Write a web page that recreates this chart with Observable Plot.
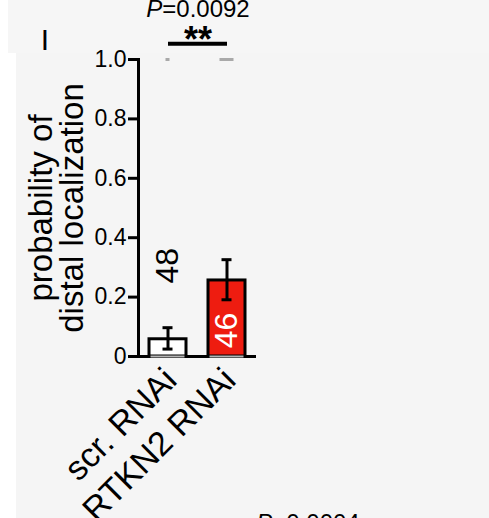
<!DOCTYPE html>
<html><head><meta charset="utf-8">
<script src="https://cdn.jsdelivr.net/npm/d3@7"></script>
<script src="https://cdn.jsdelivr.net/npm/@observablehq/plot@0.6"></script>
<style>
html,body{margin:0;padding:0;background:#fff;width:489px;height:518px;overflow:hidden;}
#bg1{position:absolute;left:8px;top:0;width:481px;height:53px;background:#f6f6f6;}
#bg2{position:absolute;left:16px;top:53px;width:473px;height:465px;background:#f5f5f5;}
#chart{position:absolute;left:0;top:0;}
</style></head><body>
<div id="bg1"></div><div id="bg2"></div><div id="chart"></div>
<script>
// ---- data ----
const conditions = ["scr. RNAi", "RTKN2 RNAi"];
const means = [0.058, 0.256];
const errLow = [0.025, 0.191];
const errHigh = [0.097, 0.326];
const counts = [48, 46];
const barFills = ["#ffffff", "#ee1c10"];
const ceilingMarks = [1.0, 1.0];
const yTicks = [0, 0.2, 0.4, 0.6, 0.8, 1.0];
const pTop = "=0.0092";
const pBottom = "=0.0004";
const stars = "**";
const bracketLevel = [1.053];
const yTitle = "probability of\ndistal localization";
const panelMark = "I";

const data = conditions.map((c, i) => ({
  cond: c, mean: means[i], lo: errLow[i], hi: errHigh[i],
  n: String(counts[i]), fill: barFills[i], top: ceilingMarks[i]
}));
const sig = [{a: conditions[0], b: conditions[1], y: bracketLevel[0]}];
const font = "'Liberation Sans', Arial, Helvetica, sans-serif";

const plot = Plot.plot({
  width: 489, height: 518,
  marginLeft: 138, marginRight: 233, marginTop: 59, marginBottom: 162,
  style: {background: "transparent", fontFamily: font, color: "#000", overflow: "hidden"},
  x: {domain: conditions, paddingInner: 0.373, paddingOuter: 0.186, axis: null},
  y: {domain: [0, 1], axis: null},
  color: {type: "identity"},
  marks: [
    Plot.barY(data, {x: "cond", y: "mean", fill: "fill", stroke: "#000", strokeWidth: 3}),
    Plot.ruleY([0], {stroke: "#000", strokeWidth: 3}),
    Plot.tickY(data, {x: "cond", y: () => 0, stroke: "#b4b4b4", strokeWidth: 2, insetLeft: 1.5, insetRight: 1.5}),
    Plot.frame({anchor: "left", stroke: "#000", strokeWidth: 3}),
    Plot.axisY({ticks: yTicks, tickSize: 10, tickPadding: 2, strokeWidth: 3, fontSize: 23,
      tickFormat: d => d === 0 ? "0" : d.toFixed(1)}),
    Plot.ruleX(data, {x: "cond", y1: "lo", y2: "hi", stroke: "#000", strokeWidth: 3}),
    Plot.tickY(data, {x: "cond", y: "lo", stroke: "#000", strokeWidth: 3, insetLeft: 13.5, insetRight: 13.5}),
    Plot.tickY(data, {x: "cond", y: "hi", stroke: "#000", strokeWidth: 3, insetLeft: 13.5, insetRight: 13.5}),
    Plot.tickY(data.slice(0, 1), {x: "cond", y: "top", stroke: "#a9a9a9", strokeWidth: 3, insetLeft: 16.5, insetRight: 16.5}),
    Plot.tickY(data.slice(1), {x: "cond", y: "top", stroke: "#a9a9a9", strokeWidth: 3, insetLeft: 11.5, insetRight: 11.5}),
    Plot.text(data.slice(0, 1), {x: "cond", y: "hi", text: "n", rotate: -90, fontSize: 32, dy: -62,
      textAnchor: "middle", lineAnchor: "middle", fill: "#000"}),
    Plot.text(data.slice(1), {x: "cond", y: () => 0, text: "n", rotate: -90, fontSize: 32, dy: -26,
      textAnchor: "middle", lineAnchor: "middle", fill: "#fff"}),
    Plot.text(data, {x: "cond", text: "cond", frameAnchor: "bottom", rotate: -45, textAnchor: "end",
      lineAnchor: "middle", fontSize: 34, dx: 3, dy: 18, fill: "#000"}),
    Plot.link(sig, {x1: "a", x2: "b", y1: "y", y2: "y", stroke: "#000", strokeWidth: 4}),
    Plot.text(sig, {x: "a", y: "y", text: () => stars, fontSize: 36, fontWeight: "bold", dx: 30, dy: 8,
      lineAnchor: "bottom", fill: "#000"}),
    Plot.text(sig, {x: "a", y: "y", text: () => "P", fontStyle: "italic", fontSize: 24, dx: -5.7, dy: -26.6,
      textAnchor: "end", lineAnchor: "bottom", fill: "#000"}),
    Plot.text(sig, {x: "a", y: "y", text: () => pTop, fontSize: 24, dx: -5.7, dy: -26.6,
      textAnchor: "start", lineAnchor: "bottom", fill: "#000"}),
    Plot.text(sig, {x: "b", y: () => 0, text: () => "P", fontStyle: "italic", fontSize: 24, dx: 45.3, dy: 174,
      textAnchor: "end", lineAnchor: "bottom", fill: "#000"}),
    Plot.text(sig, {x: "b", y: () => 0, text: () => pBottom, fontSize: 24, dx: 45.3, dy: 174,
      textAnchor: "start", lineAnchor: "bottom", fill: "#000"}),
    Plot.text([yTitle], {frameAnchor: "left", text: d => d, rotate: -90, fontSize: 33, lineHeight: 0.95,
      dx: -81, dy: 0, textAnchor: "middle", lineAnchor: "middle", fill: "#000"}),
    Plot.text([panelMark], {frameAnchor: "top-left", text: d => d, fontSize: 30, dx: 44.3 - 138, dy: 49 - 59,
      textAnchor: "middle", lineAnchor: "bottom", fill: "#000"})
  ]
});
document.getElementById("chart").appendChild(plot);
</script>
</body></html>
